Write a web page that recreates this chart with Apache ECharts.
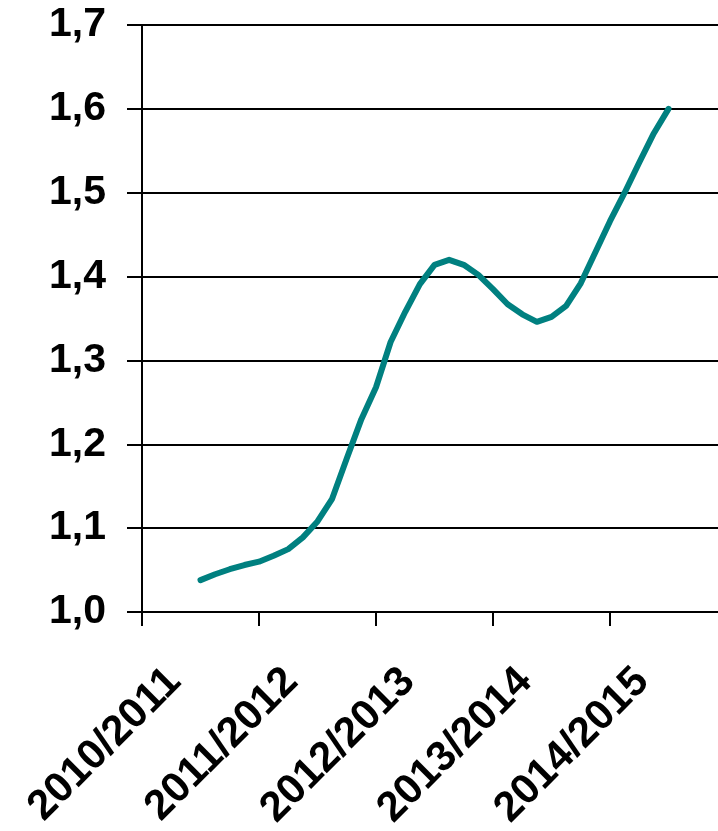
<!DOCTYPE html>
<html lang="en">
<head>
  <meta charset="UTF-8">
  <title>Chart</title>
  <style>
    html, body { margin: 0; padding: 0; background: #fff; }
    #chart { width: 718px; height: 831px; }
  </style>
</head>
<body>
  <div id="chart"></div>
  <script src="https://cdn.jsdelivr.net/npm/echarts@6/dist/echarts.min.js"></script>
  <script>
    // season labels on the category axis
    let seasons = ['2010/2011', '2011/2012', '2012/2013', '2013/2014', '2014/2015']
    // readings every 1/8 of a season, from the middle of the first season to the middle of the last
    let steps = 8
    let values = [
      1.038, 1.045, 1.051, 1.056, 1.060, 1.067, 1.075, 1.089,
      1.108, 1.135, 1.183, 1.230, 1.268, 1.322, 1.358, 1.391,
      1.414, 1.420, 1.414, 1.402, 1.385, 1.367, 1.355, 1.346,
      1.352, 1.365, 1.392, 1.429, 1.466, 1.500, 1.536, 1.571,
      1.600
    ]
    let yTicks = [1.0, 1.1, 1.2, 1.3, 1.4, 1.5, 1.6, 1.7]

    let chart = echarts.init(document.getElementById('chart'))
    let labelFont = {
      fontFamily: 'Liberation Sans, Arial, sans-serif',
      fontWeight: 'bold',
      fontSize: 41,
      color: '#000'
    }
    chart.setOption({
      animation: false,
      // plot runs a little past the right edge of the picture
      grid: {
        left: 142, top: 25, width: 585, bottom: 219,
        containLabel: false,
        outerBoundsMode: 'none'
      },
      xAxis: [
        {
          type: 'category',
          data: seasons,
          boundaryGap: true,
          axisLine: { lineStyle: { color: '#000', width: 2 } },
          axisTick: { show: true, length: 14, lineStyle: { color: '#000', width: 2 } },
          axisLabel: Object.assign({}, labelFont, {
            fontSize: 42,
            rotate: 45,
            margin: 37,
            padding: [0, 37, 0, 0],
            interval: 0
          }),
          splitLine: { show: false }
        },
        {
          type: 'value',
          min: -0.5,
          max: seasons.length - 0.5,
          show: false
        }
      ],
      yAxis: {
        type: 'value',
        min: yTicks[0],
        max: yTicks[yTicks.length - 1],
        interval: 0.1,
        axisLine: { show: true, onZero: false, lineStyle: { color: '#000', width: 2 } },
        axisTick: { show: true, length: 15, lineStyle: { color: '#000', width: 2 } },
        axisLabel: Object.assign({
          margin: 36,
          formatter: v => v.toFixed(1).replace('.', ',')
        }, labelFont),
        splitLine: { show: true, lineStyle: { color: '#000', width: 2 } }
      },
      series: [
        {
          type: 'line',
          xAxisIndex: 1,
          data: values.map((v, i) => [i / steps, v]),
          showSymbol: false,
          lineStyle: { color: '#008080', width: 6, cap: 'round', join: 'round' },
          z: 5
        }
      ]
    })
  </script>
</body>
</html>
